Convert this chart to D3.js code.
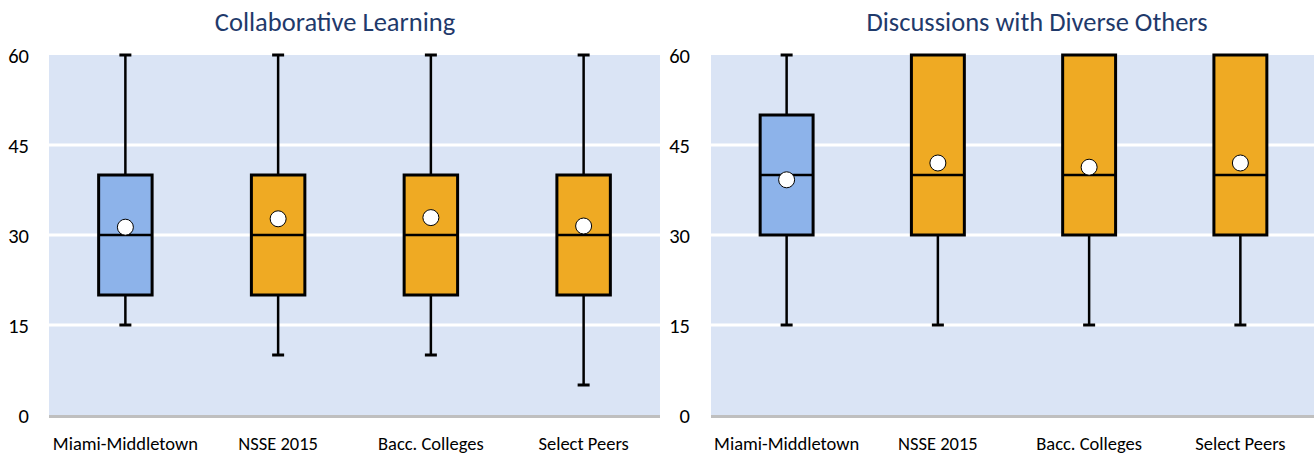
<!DOCTYPE html>
<html>
<head>
<meta charset="utf-8">
<script src="https://cdn.jsdelivr.net/npm/d3@7"></script>
<style>
  html, body { margin: 0; padding: 0; background: #ffffff; }
  svg { display: block; }
  text { font-family: Carlito, Calibri, Lato, "Open Sans", sans-serif; }
</style>
</head>
<body>
<div id="chart"></div>
<script>
// ---- Data ----
const categories = ["Miami-Middletown", "NSSE 2015", "Bacc. Colleges", "Select Peers"];
const yTicks = [0, 15, 30, 45, 60];

const collabTitle = "Collaborative Learning";
const collabMin    = [15, 10, 10, 5];
const collabQ1     = [20, 20, 20, 20];
const collabMedian = [30, 30, 30, 30];
const collabQ3     = [40, 40, 40, 40];
const collabMax    = [60, 60, 60, 60];
const collabMean   = [31.3, 32.7, 32.9, 31.5];

const diverseTitle = "Discussions with Diverse Others";
const diverseMin    = [15, 15, 15, 15];
const diverseQ1     = [30, 30, 30, 30];
const diverseMedian = [40, 40, 40, 40];
const diverseQ3     = [50, 60, 60, 60];
const diverseMax    = [60, 60, 60, 60];
const diverseMean   = [39.2, 42.0, 41.3, 42.0];

const fillColors = ["#8db3ea", "#efaa23", "#efaa23", "#efaa23"];

// ---- Layout ----
const W = 1314, H = 454;
const svg = d3.select("#chart").append("svg").attr("width", W).attr("height", H);

const panels = [
  { title: collabTitle, titleX: 335, x0: 49, x1: 660, labelX: 29,
    min: collabMin, q1: collabQ1, med: collabMedian, q3: collabQ3, max: collabMax, mean: collabMean },
  { title: diverseTitle, titleX: 1037, x0: 711, x1: 1316, labelX: 690,
    min: diverseMin, q1: diverseQ1, med: diverseMedian, q3: diverseQ3, max: diverseMax, mean: diverseMean }
];

const y = d3.scaleLinear().domain([0, 60]).range([415, 55]);

panels.forEach(p => {
  const g = svg.append("g");
  const x = d3.scaleBand().domain(categories).range([p.x0, p.x1]).padding(0);

  // plot background
  g.append("rect")
    .attr("x", p.x0).attr("y", y(60))
    .attr("width", p.x1 - p.x0).attr("height", y(0) - y(60))
    .attr("fill", "#dae4f5");

  // gridlines
  g.selectAll(".grid").data(yTicks.filter(t => t > 0 && t < 60)).enter()
    .append("line")
    .attr("x1", p.x0).attr("x2", p.x1)
    .attr("y1", d => y(d)).attr("y2", d => y(d))
    .attr("stroke", "#ffffff").attr("stroke-width", 3);

  // baseline
  g.append("line")
    .attr("x1", p.x0).attr("x2", p.x1)
    .attr("y1", y(0) + 1.5).attr("y2", y(0) + 1.5)
    .attr("stroke", "#bfbfbf").attr("stroke-width", 3);

  // y axis labels
  const yAxis = d3.axisLeft(y).tickValues(yTicks).tickSize(0).tickPadding(0);
  const ya = g.append("g").attr("transform", `translate(${p.labelX},0)`).call(yAxis);
  ya.select(".domain").remove();
  ya.selectAll("text")
    .attr("font-family", "Carlito, Calibri, Lato, 'Open Sans', sans-serif")
    .attr("font-size", 20.5).attr("fill", "#000").attr("dy", "0.35em");

  // x axis labels
  const xAxis = d3.axisBottom(x).tickSize(0).tickPadding(0);
  const xa = g.append("g").attr("transform", `translate(0,450)`).call(xAxis);
  xa.select(".domain").remove();
  xa.selectAll("text")
    .attr("font-family", "Carlito, Calibri, Lato, 'Open Sans', sans-serif")
    .attr("font-size", 18.5).attr("fill", "#000").attr("y", 0).attr("dy", "0");

  // title
  g.append("text")
    .attr("x", p.titleX).attr("y", 31)
    .attr("text-anchor", "middle")
    .attr("font-size", 26.5)
    .attr("fill", "#1f3a6b")
    .text(p.title);

  const bw = x.bandwidth() * 0.35;
  const capW = 12;

  categories.forEach((c, i) => {
    const cx = x(c) + x.bandwidth() / 2;
    const bg = g.append("g");
    // whiskers
    bg.append("line").attr("x1", cx).attr("x2", cx)
      .attr("y1", y(p.max[i])).attr("y2", y(p.q3[i]))
      .attr("stroke", "#000").attr("stroke-width", 2.5);
    bg.append("line").attr("x1", cx).attr("x2", cx)
      .attr("y1", y(p.q1[i])).attr("y2", y(p.min[i]))
      .attr("stroke", "#000").attr("stroke-width", 2.5);
    // caps
    if (p.max[i] > p.q3[i]) {
      bg.append("line").attr("x1", cx - capW / 2).attr("x2", cx + capW / 2)
        .attr("y1", y(p.max[i])).attr("y2", y(p.max[i]))
        .attr("stroke", "#000").attr("stroke-width", 3);
    }
    bg.append("line").attr("x1", cx - capW / 2).attr("x2", cx + capW / 2)
      .attr("y1", y(p.min[i])).attr("y2", y(p.min[i]))
      .attr("stroke", "#000").attr("stroke-width", 3);
    // box
    bg.append("rect")
      .attr("x", cx - bw / 2).attr("y", y(p.q3[i]))
      .attr("width", bw).attr("height", y(p.q1[i]) - y(p.q3[i]))
      .attr("fill", fillColors[i]).attr("stroke", "#000").attr("stroke-width", 3);
    // median
    bg.append("line").attr("x1", cx - bw / 2).attr("x2", cx + bw / 2)
      .attr("y1", y(p.med[i])).attr("y2", y(p.med[i]))
      .attr("stroke", "#000").attr("stroke-width", 2.5);
    // mean
    bg.append("circle")
      .attr("cx", cx).attr("cy", y(p.mean[i])).attr("r", 8)
      .attr("fill", "#ffffff").attr("stroke", "#000").attr("stroke-width", 1);
  });
});
</script>
</body>
</html>
